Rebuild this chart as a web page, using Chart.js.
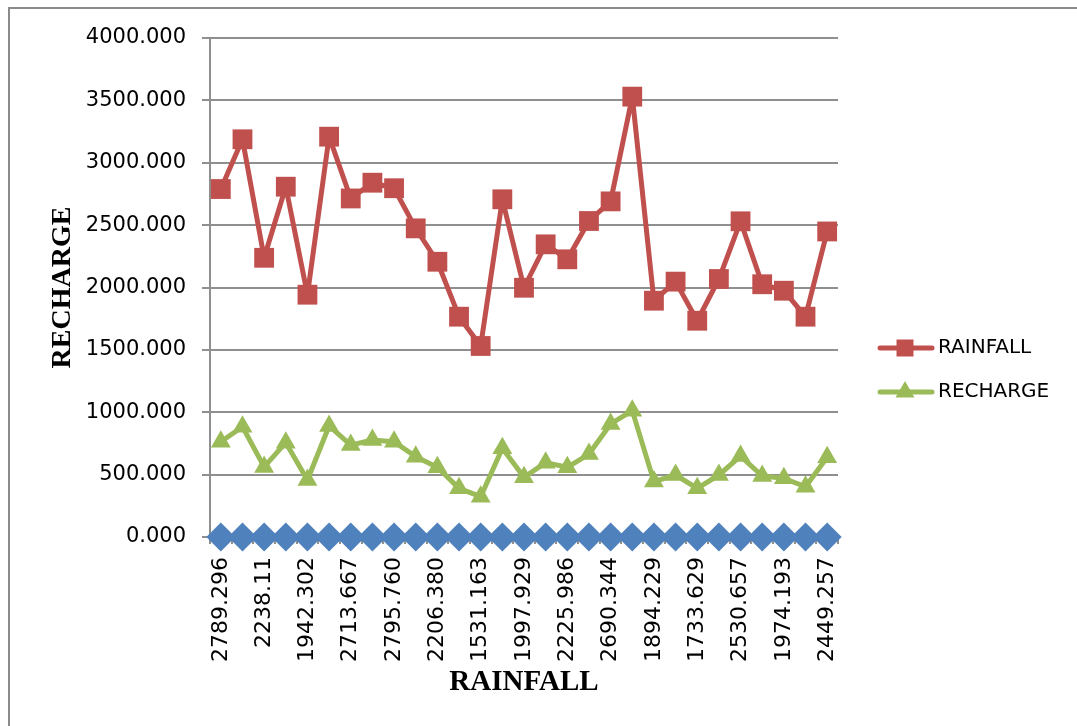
<!DOCTYPE html>
<html>
<head>
<meta charset="utf-8">
<script src="https://cdn.jsdelivr.net/npm/chart.js@4/dist/chart.umd.min.js"></script>
<style>body{margin:0;background:#fff}</style>
</head>
<body>
<canvas id="myChart" width="1077" height="726"></canvas>
<script>
// x labels (rainfall), only every other one is shown in the picture
let rainfallLabels = ['2789.296', '3188.000', '2238.11', '2808.000', '1942.302', '3209.000',
    '2713.667', '2840.000', '2795.760', '2474.000', '2206.380', '1766.000', '1531.163',
    '2707.000', '1997.929', '2346.000', '2225.986', '2533.000', '2690.344', '3530.000',
    '1894.229', '2047.000', '1733.629', '2068.000', '2530.657', '2026.000', '1974.193',
    '1766.000', '2449.257'];

let rainfallValues = [2789.296, 3188, 2238.11, 2808, 1942.302, 3209, 2713.667, 2840, 2795.760,
    2474, 2206.380, 1766, 1531.163, 2707, 1997.929, 2346, 2225.986, 2533, 2690.344, 3530,
    1894.229, 2047, 1733.629, 2068, 2530.657, 2026, 1974.193, 1766, 2449.257];

let rechargeValues = [764, 884, 562, 756, 457, 890, 737, 778, 764, 644, 559, 390, 323, 711,
    479, 596, 559, 665, 906, 1013, 444, 497, 390, 497, 649, 489, 470, 403, 639];

let baseValues = [0, 0, 0, 0, 0, 0, 0, 0, 0, 0, 0, 0, 0, 0, 0, 0, 0, 0, 0, 0, 0, 0, 0, 0, 0, 0, 0, 0, 0];

const RED = '#C0504D';
const GREEN = '#9BBB59';
const BLUE = '#4F81BD';
const GRID = '#8f8f8f';

// white page + frame lines on top and left only
const framePlugin = {
    id: 'frame',
    beforeDraw(chart) {
        const ctx = chart.ctx;
        ctx.save();
        ctx.fillStyle = '#fff';
        ctx.fillRect(0, 0, chart.width, chart.height);
        ctx.strokeStyle = '#8a8a8a';
        ctx.lineWidth = 2;
        ctx.beginPath();
        ctx.moveTo(9, 726);
        ctx.lineTo(9, 8);
        ctx.lineTo(1077, 8);
        ctx.stroke();
        ctx.restore();
    }
};

// excel style legend: line with marker in the middle
const legendPlugin = {
    id: 'xlLegend',
    afterDraw(chart) {
        const ctx = chart.ctx;
        const items = [
            {text: 'RAINFALL', color: RED, style: 'rect', y: 348},
            {text: 'RECHARGE', color: GREEN, style: 'triangle', y: 392}
        ];
        ctx.save();
        items.forEach(it => {
            ctx.strokeStyle = it.color;
            ctx.lineWidth = 5;
            ctx.lineCap = 'round';
            ctx.beginPath();
            ctx.moveTo(880, it.y);
            ctx.lineTo(932, it.y);
            ctx.stroke();
            ctx.fillStyle = it.color;
            Chart.helpers.drawPoint(ctx, {pointStyle: it.style, radius: it.style === 'rect' ? 12 : 11, borderWidth: 0}, 905, it.y);
            ctx.fillStyle = '#000';
            ctx.font = '20px "DejaVu Sans"';
            ctx.textBaseline = 'middle';
            ctx.textAlign = 'left';
            ctx.fillText(it.text, 938, it.y);
        });
        ctx.restore();
    }
};

let chartElement = document.getElementById('myChart').getContext('2d');

let myChart = new Chart(chartElement, {
    type: 'line',
    data: {
        labels: rainfallLabels,
        datasets: [{
            label: '',
            data: baseValues,
            borderColor: BLUE,
            backgroundColor: BLUE,
            borderWidth: 4,
            pointStyle: 'rectRot',
            pointRadius: 14.5,
            pointBorderWidth: 0,
            clip: false
        }, {
            label: 'RECHARGE',
            data: rechargeValues,
            borderColor: GREEN,
            backgroundColor: GREEN,
            borderWidth: 5,
            borderJoinStyle: 'round',
            pointStyle: 'triangle',
            pointRadius: 11.5,
            pointBorderWidth: 0,
            clip: false
        }, {
            label: 'RAINFALL',
            data: rainfallValues,
            borderColor: RED,
            backgroundColor: RED,
            borderWidth: 5,
            borderJoinStyle: 'round',
            pointStyle: 'rect',
            pointRadius: 14,
            pointBorderWidth: 0,
            clip: false
        }]
    },
    options: {
        responsive: false,
        animation: false,
        layout: {padding: {left: 40, top: 38, right: 239, bottom: 0}},
        plugins: {legend: {display: false}, tooltip: {enabled: false}},
        scales: {
            x: {
                offset: true,
                afterFit: function(scale) { scale.height = 189; },
                grid: {offset: true, drawOnChartArea: false, color: GRID, lineWidth: 2, tickLength: 7},
                border: {color: GRID, width: 2},
                ticks: {
                    autoSkip: false,
                    maxRotation: 90,
                    minRotation: 90,
                    padding: 13,
                    color: '#000',
                    font: {family: 'DejaVu Sans', size: 22},
                    callback: function(v, i) { return i % 2 === 0 ? this.getLabelForValue(v) : ''; }
                },
                title: {
                    display: true,
                    text: 'RAINFALL',
                    color: '#000',
                    font: {family: 'Liberation Serif', size: 29, weight: 'bold'},
                    padding: {top: 0, bottom: 26}
                }
            },
            y: {
                min: 0,
                max: 4000,
                afterFit: function(scale) { scale.width = 170; },
                grid: {color: GRID, lineWidth: 2, tickLength: 8},
                border: {color: GRID, width: 2},
                ticks: {
                    stepSize: 500,
                    padding: 16,
                    color: '#000',
                    font: {family: 'DejaVu Sans', size: 21},
                    callback: v => v.toFixed(3)
                },
                title: {
                    display: true,
                    text: 'RECHARGE',
                    color: '#000',
                    font: {family: 'Liberation Serif', size: 28, weight: 'bold'},
                    padding: {top: 6, bottom: 0}
                }
            }
        }
    },
    plugins: [framePlugin, legendPlugin]
});
</script>
</body>
</html>
